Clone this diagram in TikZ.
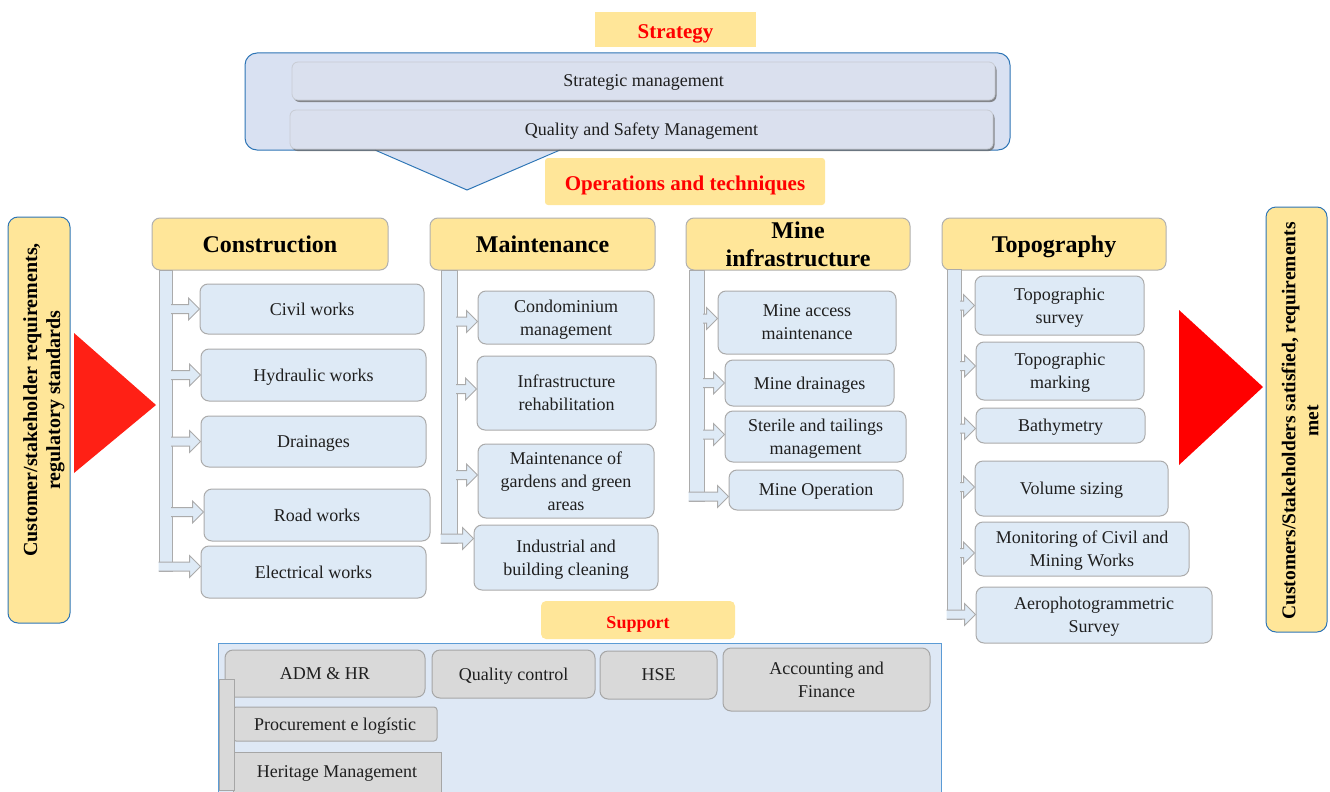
\documentclass[tikz,border=0pt]{standalone}
\usepackage{fontspec}
\setmainfont{Liberation Serif}
\usetikzlibrary{shadows,calc}

\definecolor{hdrY}{HTML}{FFE699}
\definecolor{catD}{HTML}{B0B0B0}
\definecolor{itemF}{HTML}{DEEAF6}
\definecolor{itemD}{HTML}{ABABAB}
\definecolor{stratF}{HTML}{D9E1F2}
\definecolor{stratD}{HTML}{2E75B6}
\definecolor{barF}{HTML}{DAE0EE}
\definecolor{barD}{HTML}{C8CCD4}
\definecolor{supF}{HTML}{DEE8F5}
\definecolor{supD}{HTML}{5B9BD5}
\definecolor{grayF}{HTML}{D9D9D9}
\definecolor{grayD}{HTML}{A6A6A6}
\definecolor{txt}{HTML}{1F1F1F}
\definecolor{redL}{HTML}{FF2015}
\definecolor{redR}{HTML}{FF0000}

\tikzset{
  itemtxt/.style={font=\fontsize{18}{23}\selectfont, text=txt, align=center, text depth=0pt},
  item/.style={itemtxt, draw=itemD, fill=itemF, rounded corners=8pt, line width=1pt, inner sep=0pt},
  grbox/.style={itemtxt, draw=grayD, fill=grayF, rounded corners=8pt, line width=1pt, inner sep=0pt},
  cat/.style={draw=catD, fill=hdrY, rounded corners=8pt, line width=1pt, inner sep=0pt, text depth=0pt,
    text=black, font=\fontsize{24}{28}\selectfont\bfseries, align=center},
  band/.style={fill=hdrY, inner sep=0pt, text=redR, text height=17.5pt, text depth=0pt,
    font=\fontsize{21}{24}\selectfont\bfseries},
  stratbar/.style={itemtxt, draw=barD, fill=barF, rounded corners=6pt, line width=0.8pt, inner sep=0pt,
    drop shadow={shadow xshift=1.5pt, shadow yshift=-2pt, fill=black!60, opacity=0.75}},
  stem/.style={draw=itemD, fill=itemF, line width=1pt, inner sep=0pt},
  sidebox/.style={draw=stratD, fill=hdrY, rounded corners=10pt, line width=1pt, inner sep=0pt},
  sidetxt/.style={rotate=90, font=\fontsize{20}{23}\selectfont\bfseries, text=black, align=center},
  blk/.style={draw=itemD, fill=itemF, line width=1pt,
    to path={let \p1=(\tikztostart), \p2=(\tikztotarget) in
      (\x1,\y1+4.5pt) -- (\x2-11pt,\y1+4.5pt) -- (\x2-11pt,\y1+11pt) -- (\x2,\y1)
      -- (\x2-11pt,\y1-11pt) -- (\x2-11pt,\y1-4.5pt) -- (\x1,\y1-4.5pt)}},
}

\begin{document}
\begin{tikzpicture}[x=1pt,y=-1pt]
\useasboundingbox (0,0) rectangle (1330,792);
\begin{scope}
\clip (0,0) rectangle (1330,792);

% ---------- strategy ----------
\node[band, minimum width=161pt, minimum height=35pt] (strh) at (675.5,29.5) {Strategy};
\node[draw=stratD, fill=stratF, rounded corners=12pt, line width=1pt, minimum width=765pt, minimum height=97pt] (strbox) at (627.5,101.5) {};
\fill[stratF] (375,149) -- (467,190) -- (560,149) -- cycle;
\draw[stratD, line width=1pt] (375,150) -- (467,190) -- (560,150);
\node[stratbar, minimum width=703pt, minimum height=38pt] (sm) at (643.5,81) {Strategic management};
\node[stratbar, minimum width=703pt, minimum height=39pt] (qsm) at (641.5,129.5) {Quality and Safety Management};

\node[band, rounded corners=3pt, minimum width=280pt, minimum height=47pt] (opsh) at (685,181.5) {Operations and techniques};

% ---------- inputs and outputs ----------
\node[sidebox, minimum width=62pt, minimum height=406pt] (inbox) at (39,420) {};
\node[sidetxt] (intext) at (44,400) {Customer/stakeholder requirements,\\regulatory standards};
\fill[redL] (74,333) -- (156,405) -- (74,473) -- cycle;

\fill[redR] (1179,310) -- (1263,387) -- (1179,465) -- cycle;
\node[sidebox, minimum width=61pt, minimum height=425pt] (outbox) at (1296.5,419.5) {};
\node[sidetxt, font=\fontsize{19.5}{23}\selectfont\bfseries] (outtext) at (1300,421) {Customers/Stakeholders satisfied, requirements\\met};

% ---------- construction ----------
\node[cat, minimum width=236pt, minimum height=52pt] (con) at (270,244) {Construction};
\node[stem, minimum width=13pt, minimum height=301pt] (cbar) at (165.5,420.5) {};
\node[item, minimum width=224pt, minimum height=50pt] (civ) at (312,309) {Civil works};
\node[item, minimum width=225pt, minimum height=52pt] (hyd) at (313.5,375) {Hydraulic works};
\node[item, minimum width=225pt, minimum height=51pt] (dra) at (313.5,441.5) {Drainages};
\node[item, minimum width=226pt, minimum height=52pt] (road) at (317,515) {Road works};
\node[item, minimum width=225pt, minimum height=52pt] (elec) at (313.5,572) {Electrical works};
\draw[blk] ([xshift=-1.5pt]cbar.east |- civ.west) to (civ.west);
\draw[blk] ([xshift=-1.5pt]cbar.east |- hyd.west) to (hyd.west);
\draw[blk] ([xshift=-1.5pt]cbar.east |- dra.west) to (dra.west);
\draw[blk] ([xshift=-1.5pt,yshift=3pt]cbar.east |- road.west) to (road.west);
\draw[blk] ([yshift=5pt]cbar.south west) to (elec.west);

% ---------- maintenance ----------
\node[cat, minimum width=225pt, minimum height=52pt] (mai) at (542.5,244) {Maintenance};
\node[stem, minimum width=16pt, minimum height=273pt] (mbar) at (449,406.5) {};
\node[item, minimum width=176pt, minimum height=53pt] (cond) at (566,317.5) {Condominium\\management};
\node[item, minimum width=179pt, minimum height=74pt] (infra) at (566.5,393) {Infrastructure\\rehabilitation};
\node[item, minimum width=176pt, minimum height=74pt] (gard) at (566,481) {Maintenance of\\gardens and green\\areas};
\node[item, minimum width=184pt, minimum height=65pt] (indu) at (566,557.5) {Industrial and\\building cleaning};
\draw[blk] ([xshift=-1.5pt,yshift=-4pt]mbar.east |- cond.west) to (cond.west);
\draw[blk] ([xshift=-1.5pt,yshift=4pt]mbar.east |- infra.west) to (infra.west);
\draw[blk] ([xshift=-1.5pt,yshift=6pt]mbar.east |- gard.west) to (gard.west);
\draw[blk] ([yshift=5pt]mbar.south west) to (indu.west);

% ---------- mine infrastructure ----------
\node[cat, minimum width=224pt, minimum height=52pt] (mine) at (798,244) {Mine\\infrastructure};
\node[stem, minimum width=15pt, minimum height=231pt] (ibar) at (696.5,385.5) {};
\node[item, minimum width=178pt, minimum height=63pt] (acc) at (807,322.5) {Mine access\\maintenance};
\node[item, minimum width=169pt, minimum height=46pt] (mdr) at (809.5,383) {Mine drainages};
\node[item, minimum width=181pt, minimum height=51pt] (ster) at (815.5,436.5) {Sterile and tailings\\management};
\node[item, minimum width=174pt, minimum height=40pt] (mop) at (816,490) {Mine Operation};
\draw[blk] ([xshift=-1.5pt,yshift=4pt]ibar.east |- acc.west) to (acc.west);
\draw[blk] ([xshift=-1.5pt]ibar.east |- mdr.west) to (mdr.west);
\draw[blk] ([xshift=-1.5pt,yshift=2pt]ibar.east |- ster.west) to (ster.west);
\draw[blk] ([yshift=5pt]ibar.south west) to (mop.west);

% ---------- topography ----------
\node[cat, minimum width=224pt, minimum height=52pt] (topo) at (1054,244) {Topography};
\node[stem, minimum width=14pt, minimum height=350pt] (tbar) at (954,444) {};
\node[item, minimum width=169pt, minimum height=59pt] (ts) at (1059.5,305.5) {Topographic\\survey};
\node[item, minimum width=168pt, minimum height=58pt] (tm) at (1060,371) {Topographic\\marking};
\node[item, minimum width=169pt, minimum height=35pt] (bat) at (1060.5,425.5) {Bathymetry};
\node[item, minimum width=193pt, minimum height=55pt] (vol) at (1071.5,488.5) {Volume sizing};
\node[item, minimum width=214pt, minimum height=54pt] (mon) at (1082,549) {Monitoring of Civil and\\Mining Works};
\node[item, minimum width=236pt, minimum height=56pt] (aer) at (1094,615) {Aerophotogrammetric\\Survey};
\draw[blk] ([xshift=-1.5pt]tbar.east |- ts.west) to (ts.west);
\draw[blk] ([xshift=-1.5pt,yshift=5pt]tbar.east |- tm.west) to (tm.west);
\draw[blk] ([xshift=-1.5pt,yshift=-3pt]tbar.east |- bat.west) to (bat.west);
\draw[blk] ([xshift=-1.5pt,yshift=1.5pt]tbar.east |- vol.west) to (vol.west);
\draw[blk] ([xshift=-1.5pt,yshift=-4pt]tbar.east |- mon.west) to (mon.west);
\draw[blk] ([yshift=5pt]tbar.south west) to (aer.west);

% ---------- support ----------
\node[band, rounded corners=5pt, minimum width=194pt, minimum height=38pt, text height=16pt,
  font=\fontsize{18}{20}\selectfont\bfseries] (suph) at (638,620) {Support};
\node[draw=supD, fill=supF, line width=1pt, minimum width=723pt, minimum height=160pt, inner sep=0pt] (supbox) at (579.5,723) {};
\node[grbox, minimum width=200pt, minimum height=47pt] (adm) at (325,673.5) {ADM \& HR};
\node[grbox, minimum width=163pt, minimum height=48pt] (qc) at (513.5,674) {Quality control};
\node[grbox, minimum width=117pt, minimum height=48pt] (hse) at (658.5,675) {HSE};
\node[grbox, minimum width=207pt, minimum height=63pt] (accf) at (826.5,679.5) {Accounting and\\Finance};
\node[grbox, rounded corners=3pt, minimum width=204pt, minimum height=34pt] (proc) at (335,724) {Procurement e logístic};
\node[grbox, rounded corners=0pt, minimum width=208pt, minimum height=40pt] (her) at (337,772) {Heritage Management};
\node[draw=grayD, fill=grayF, line width=1pt, minimum width=15pt, minimum height=111pt, inner sep=0pt] (supbar) at (226.5,734.5) {};
\end{scope}
\end{tikzpicture}
\end{document}
